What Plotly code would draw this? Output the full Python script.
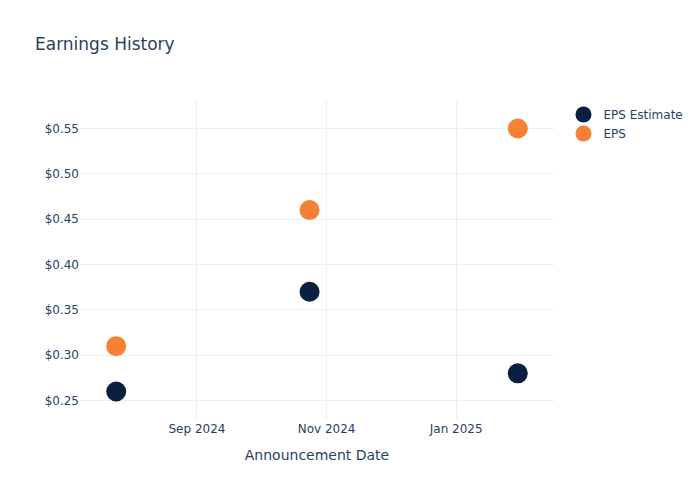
import plotly.graph_objects as go

# 公告日期與每股盈餘
dates = ["2024-07-25", "2024-10-24", "2025-01-30"]
eps_estimate = [0.26, 0.37, 0.28]
eps_actual = [0.31, 0.46, 0.55]

fig = go.Figure()

fig.add_trace(go.Scatter(
    x=dates,
    y=eps_estimate,
    mode="markers",
    name="EPS Estimate",
    marker=dict(color="#0b1f40", size=20),
))

fig.add_trace(go.Scatter(
    x=dates,
    y=eps_actual,
    mode="markers",
    name="EPS",
    marker=dict(color="#f58134", size=20),
))

fig.update_layout(
    title="Earnings History",
    template="plotly_white",
    width=700,
    height=500,
    font=dict(family="DejaVu Sans"),
    xaxis=dict(title="Announcement Date"),
    yaxis=dict(tickprefix="$", tickformat=".2f"),
)

# 去掉頁面預設邊距，隱藏工具列
fig.write_html(
    "out.html",
    config={"displayModeBar": False},
    post_script="document.body.style.margin='0px';",
)
